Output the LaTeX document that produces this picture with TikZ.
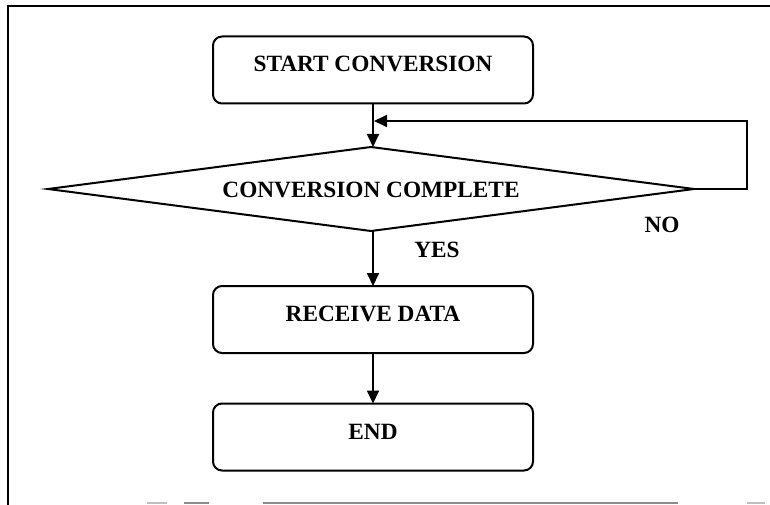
\documentclass[tikz,border=0pt]{standalone}
\usepackage{fontspec}
\setmainfont{Liberation Serif}
\usetikzlibrary{shapes.geometric,arrows.meta}

\begin{document}
\begin{tikzpicture}[x=1pt,y=-1pt,
  every node/.style={font=\fontsize{23.3}{28}\bfseries\selectfont, outer sep=0pt},
  stepbox/.style={draw, line width=2pt, rounded corners=9pt,
    minimum width=320pt, minimum height=67pt, inner sep=0pt,
    text height=16pt, text depth=12pt},
  decision/.style={draw, line width=2pt, diamond, aspect=7.7, inner sep=0pt,
    minimum width=646pt, minimum height=84pt, text height=16pt, text depth=0pt},
  flow/.style={line width=1.8pt, -{Triangle[length=13pt,width=12pt]}},
  frameline/.style={line width=1.6pt},
  scanline/.style={line width=2pt}
]
\useasboundingbox (0,0) rectangle (770,505);

% page frame
\draw[frameline] (8,505) -- (8,6) -- (770,6);
\draw[scanline, black!25] (147,503) -- (167,503);
\draw[scanline, black!45] (184,503) -- (209,503);
\draw[scanline, black!45] (263,503) -- (678,503);
\draw[scanline, black!25] (747,503) -- (765,503);

% flowchart steps
\node[stepbox]  (start)   at (373,70)  {START CONVERSION};
\node[decision] (check)   at (371,189) {CONVERSION COMPLETE};
\node[stepbox]  (receive) at (373,319.5) {RECEIVE DATA};
\node[stepbox]  (finish)  at (373,437) {END};

% loop-back junction and outer corner
\coordinate (join) at (373,121);
\coordinate (loopx) at (747,121);

\draw[flow] (start.south) -- (start.south |- check.north);
\draw[flow, shorten >=1pt] (check.east) -- (check.east -| loopx) -- (loopx) -- (join);
\draw[flow] (check.south -| start.south) -- (receive.north);
\draw[flow] (receive.south) -- (finish.north);

% branch labels
\node (no)  at (662,225) {NO};
\node (yes) at (437,250) {YES};
\end{tikzpicture}
\end{document}
